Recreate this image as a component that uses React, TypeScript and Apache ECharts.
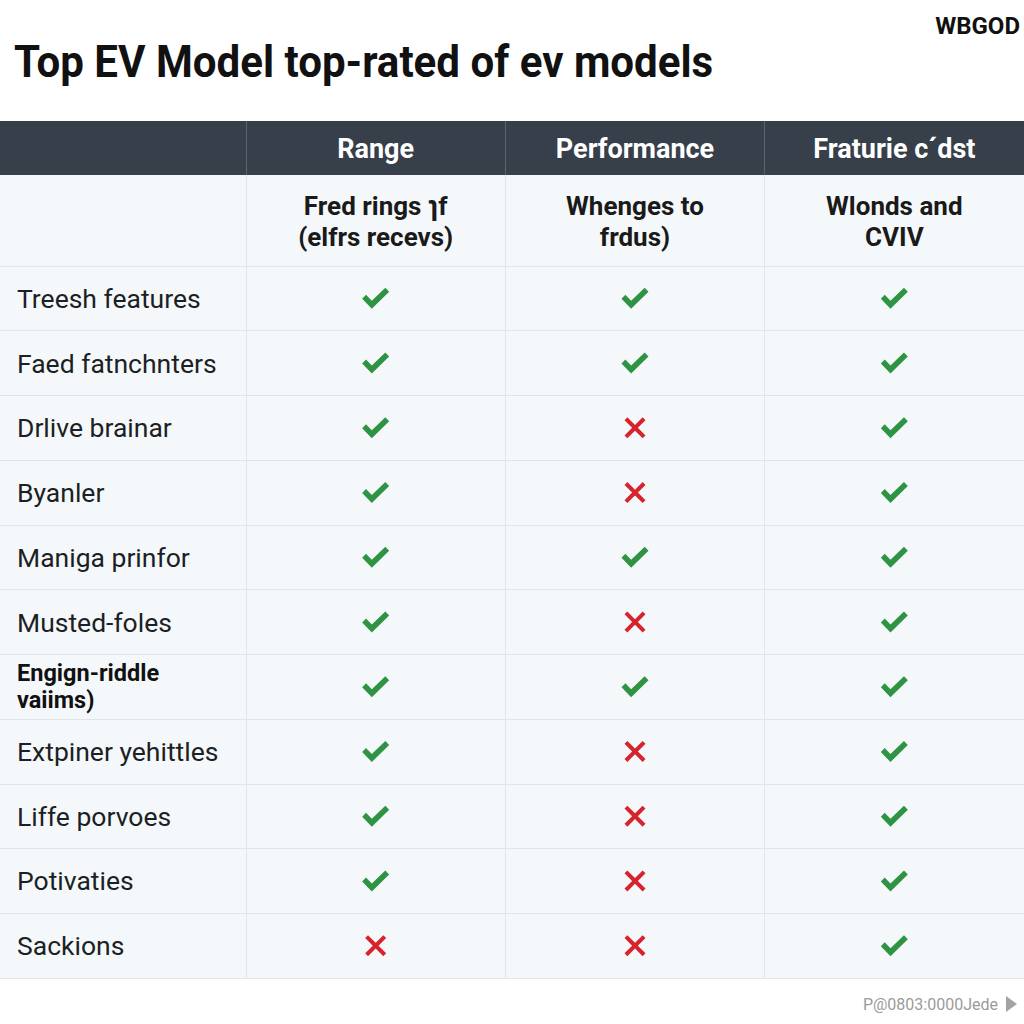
import React, { useEffect, useRef } from "react";
import * as echarts from "echarts";

const title = "Top EV Model top-rated of ev models";
const brand = "WBGOD";
const footer = "P@0803:0000Jede";
const columns = ["Range", "Performance", "Fraturie c´dst"];
const subHeaders = ["Fred rings ɿf\n(elfrs recevs)", "Whenges to\nfrdus)", "Wlonds and\nCVIV"];
const rowLabels = [
  "Treesh features",
  "Faed fatnchnters",
  "Drlive brainar",
  "Byanler",
  "Maniga prinfor",
  "Musted-foles",
  "Engign-riddle\nvaiims)",
  "Extpiner yehittles",
  "Liffe porvoes",
  "Potivaties",
  "Sackions",
];
const boldRows = ["Engign-riddle\nvaiims)"];
// 1 = check, 0 = cross
const rangeValues = [1, 1, 1, 1, 1, 1, 1, 1, 1, 1, 0];
const performanceValues = [1, 1, 0, 0, 1, 0, 1, 0, 0, 0, 0];
const featureValues = [1, 1, 1, 1, 1, 1, 1, 1, 1, 1, 1];

const CHECK = "path://M0,11 L4,7 L10,13 L24,0 L28,4 L10,21 Z";
const CROSS =
  "path://M3,0 L11,8 L19,0 L22,3 L14,11 L22,19 L19,22 L11,14 L3,22 L0,19 L8,11 L0,3 Z";

export default function App() {
  const ref = useRef<HTMLDivElement>(null);
  useEffect(() => {
    document.body.style.margin = "0";
    const chart = echarts.init(ref.current!, null, { renderer: "svg" });
    const allCols = [rangeValues, performanceValues, featureValues];
    const checks: number[][] = [];
    const crosses: number[][] = [];
    allCols.forEach((vals, c) =>
      vals.forEach((v, r) => (v ? checks : crosses).push([c, r]))
    );
    const lineColor = "#e1e6ec";
    const font = "Roboto, 'Noto Sans', sans-serif";
    chart.setOption({
      animation: false,
      backgroundColor: "#ffffff",
      textStyle: { fontFamily: font },
      grid: { left: 246, right: 0, top: 266, bottom: 46 },
      graphic: {
        elements: [
          { type: "rect", z: -10, shape: { x: 0, y: 175, width: 1024, height: 803 }, style: { fill: "#f5f8fa" } },
          { type: "rect", z: -10, shape: { x: 0, y: 121, width: 1024, height: 54 }, style: { fill: "#373f4b" } },
          {
            type: "text", x: 14, y: 62, scaleX: 0.935,
            style: { text: title, fontSize: 45, fontWeight: "bold", fontFamily: font, fill: "#111111", verticalAlign: "middle" },
          },
          {
            type: "text", x: 1020, y: 26,
            style: { text: brand, fontSize: 24, fontWeight: "bold", fontFamily: font, fill: "#111111", align: "right", verticalAlign: "middle" },
          },
          {
            type: "text", x: 998, y: 1004,
            style: { text: footer, fontSize: 16, fontFamily: font, fill: "#9b9b9b", align: "right", verticalAlign: "middle" },
          },
          {
            type: "polygon",
            shape: { points: [[1006, 996], [1006, 1012], [1017, 1004]] },
            style: { fill: "#a3a3a3" },
          },
        ],
      },
      xAxis: [
        {
          type: "category",
          position: "top",
          data: subHeaders,
          axisLine: { show: false },
          axisTick: { show: true, length: 91, lineStyle: { color: lineColor } },
          splitLine: { show: true, lineStyle: { color: lineColor } },
          axisLabel: {
            fontSize: 26, fontWeight: "bold", color: "#1a1a1a", lineHeight: 31, margin: 14, fontFamily: font,
          },
        },
        {
          type: "category",
          position: "top",
          offset: 91,
          data: columns,
          axisLine: { show: false },
          axisTick: { show: true, length: 54, lineStyle: { color: "#5a626d" } },
          axisLabel: { fontSize: 27, fontWeight: "bold", color: "#ffffff", margin: 13, fontFamily: font },
        },
      ],
      yAxis: {
        type: "category",
        data: rowLabels,
        inverse: true,
        axisLine: { show: false },
        axisTick: { show: true, length: 246, lineStyle: { color: lineColor } },
        splitLine: { show: true, lineStyle: { color: lineColor } },
        axisLabel: {
          align: "left",
          margin: 229,
          fontSize: 26.5,
          color: "#1c1f24",
          fontFamily: font,
          formatter: (v: string) => (boldRows.includes(v) ? `{b|${v}}` : v),
          rich: { b: { fontWeight: "bold", fontSize: 23.5, lineHeight: 27, color: "#111111", fontFamily: font } },
        },
      },
      series: [
        {
          name: "Yes",
          type: "scatter",
          data: checks,
          symbol: CHECK,
          symbolSize: [27, 21],
          itemStyle: { color: "#2e9443", opacity: 1 },
        },
        {
          name: "No",
          type: "scatter",
          data: crosses,
          symbol: CROSS,
          symbolSize: [21, 21],
          itemStyle: { color: "#d6232c", opacity: 1 },
        },
      ],
    });
    return () => chart.dispose();
  }, []);
  return <div ref={ref} style={{ width: 1024, height: 1024 }} />;
}
